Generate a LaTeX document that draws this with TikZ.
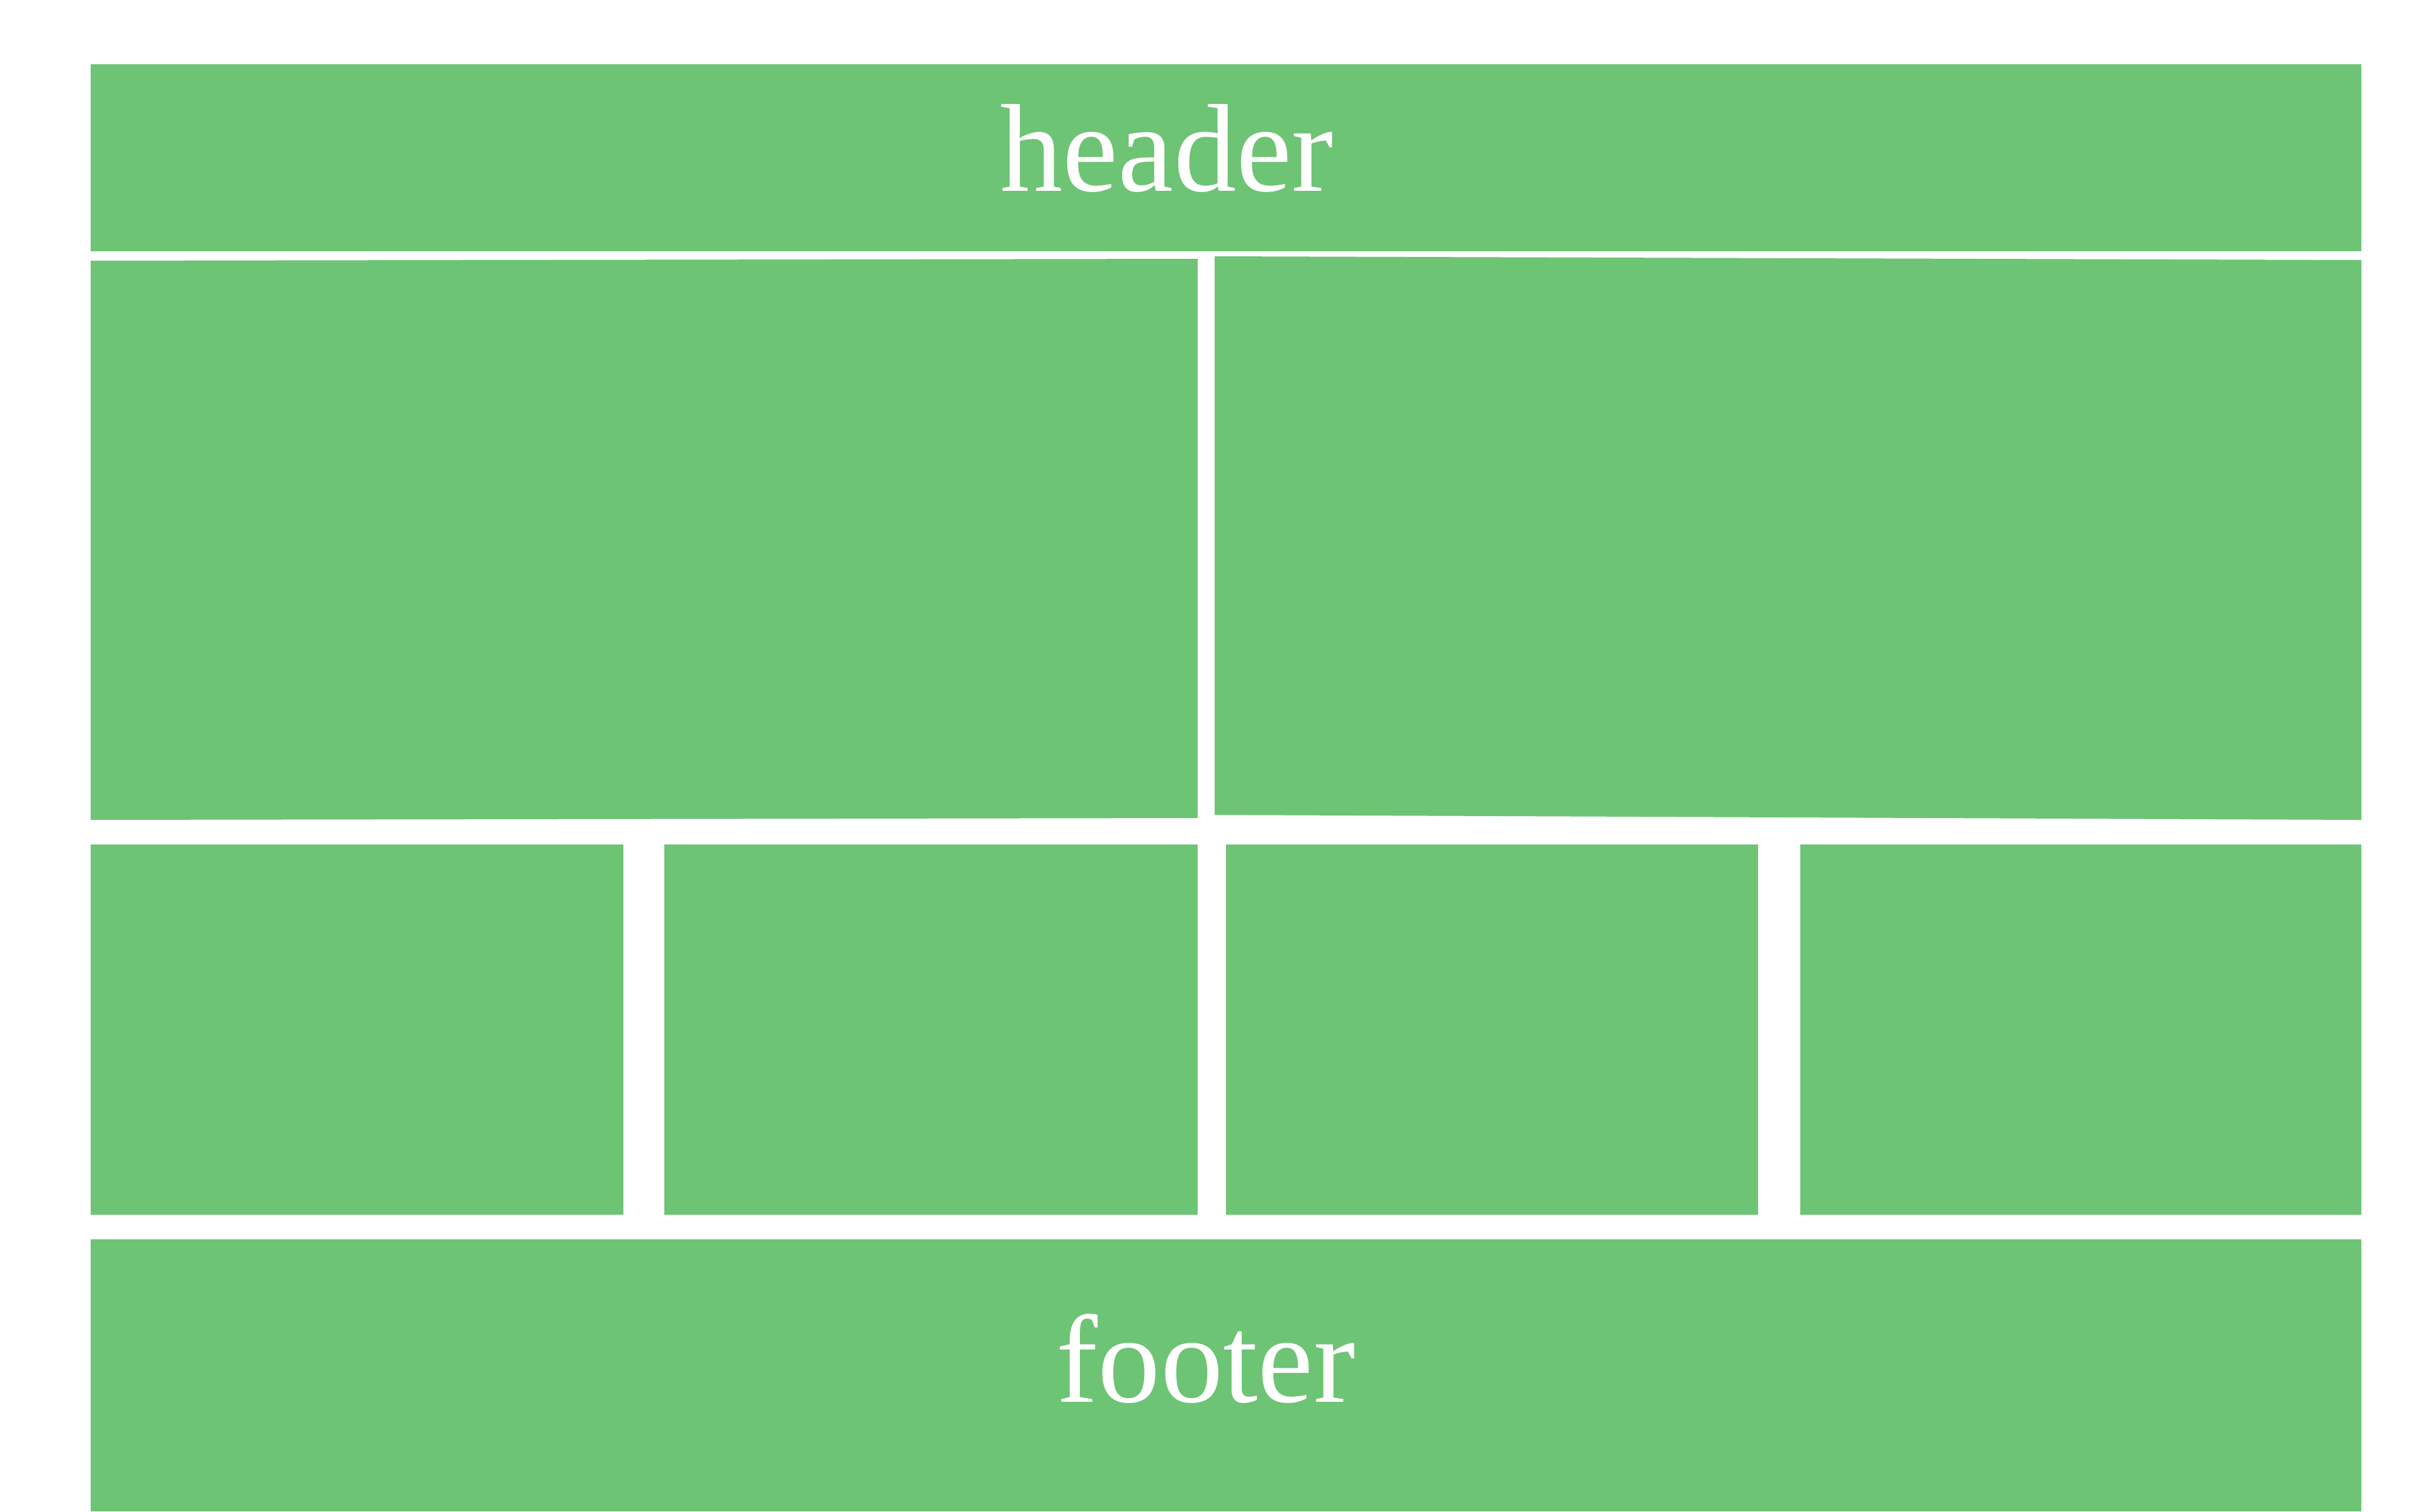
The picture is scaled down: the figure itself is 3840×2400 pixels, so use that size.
\documentclass[tikz,border=0pt]{standalone}
\usepackage{fontspec}
\setmainfont{Liberation Serif}
\definecolor{boxgreen}{RGB}{109,196,116}
\tikzset{
  panel/.style={fill=boxgreen, draw=none},
  label/.style={text=white, font=\fontsize{56.5}{60}\selectfont, inner sep=0pt, anchor=base}
}
\begin{document}
\begin{tikzpicture}[x=0.01cm, y=-0.01cm]
\useasboundingbox[fill=white] (0,0) rectangle (3840,2400);
% header
\fill[panel] (144,102) rectangle (3750,399);
% big panels (slightly skewed)
\fill[panel] (144,414) -- (1902,411) -- (1902,1299) -- (144,1302) -- cycle;
\fill[panel] (1929,407) -- (3750,413) -- (3750,1302) -- (1929,1294) -- cycle;
% small panels
\fill[panel] (144,1341) rectangle (990,1929);
\fill[panel] (1055,1341) rectangle (1902,1929);
\fill[panel] (1947,1341) rectangle (2792,1929);
\fill[panel] (2859,1341) rectangle (3750,1929);
% footer
\fill[panel] (144,1968) rectangle (3750,2400);
% labels
\node[label] (headertext) at (1853,304) {header};
\node[label] (footertext) at (1915,2226) {footer};
\end{tikzpicture}
\end{document}
